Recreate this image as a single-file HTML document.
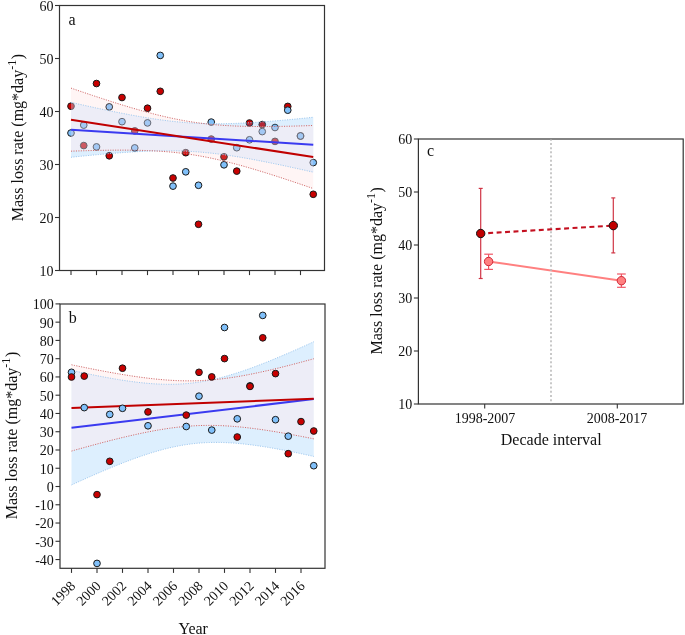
<!DOCTYPE html>
<html><head><meta charset="utf-8"><style>html,body{margin:0;padding:0;background:#fff;width:685px;height:635px;overflow:hidden}svg{display:block;will-change:transform}</style></head>
<body><svg width="685" height="635" viewBox="0 0 685 635"><rect width="685" height="635" fill="#fff"/><g stroke="#1a1a1a" stroke-width="1.0"><circle cx="71.00" cy="106.20" r="3.35" fill="#c80000"/><circle cx="71.00" cy="133.02" r="3.35" fill="#80c0fa"/><circle cx="83.75" cy="145.58" r="3.35" fill="#c80000"/><circle cx="83.75" cy="125.12" r="3.35" fill="#80c0fa"/><circle cx="96.50" cy="83.52" r="3.35" fill="#c80000"/><circle cx="96.50" cy="146.90" r="3.35" fill="#80c0fa"/><circle cx="109.25" cy="155.81" r="3.35" fill="#c80000"/><circle cx="109.25" cy="106.89" r="3.35" fill="#80c0fa"/><circle cx="122.00" cy="97.51" r="3.35" fill="#c80000"/><circle cx="122.00" cy="121.68" r="3.35" fill="#80c0fa"/><circle cx="134.75" cy="130.90" r="3.35" fill="#c80000"/><circle cx="134.75" cy="147.91" r="3.35" fill="#80c0fa"/><circle cx="147.50" cy="108.21" r="3.35" fill="#c80000"/><circle cx="147.50" cy="122.90" r="3.35" fill="#80c0fa"/><circle cx="160.25" cy="91.31" r="3.35" fill="#c80000"/><circle cx="160.25" cy="55.43" r="3.35" fill="#80c0fa"/><circle cx="173.00" cy="178.01" r="3.35" fill="#c80000"/><circle cx="173.00" cy="186.12" r="3.35" fill="#80c0fa"/><circle cx="185.75" cy="152.68" r="3.35" fill="#c80000"/><circle cx="185.75" cy="171.81" r="3.35" fill="#80c0fa"/><circle cx="198.50" cy="224.28" r="3.35" fill="#c80000"/><circle cx="198.50" cy="185.28" r="3.35" fill="#80c0fa"/><circle cx="211.25" cy="139.06" r="3.35" fill="#c80000"/><circle cx="211.25" cy="122.10" r="3.35" fill="#80c0fa"/><circle cx="224.00" cy="156.81" r="3.35" fill="#c80000"/><circle cx="224.00" cy="164.82" r="3.35" fill="#80c0fa"/><circle cx="236.75" cy="171.12" r="3.35" fill="#c80000"/><circle cx="236.75" cy="147.70" r="3.35" fill="#80c0fa"/><circle cx="249.50" cy="123.00" r="3.35" fill="#c80000"/><circle cx="249.50" cy="139.80" r="3.35" fill="#80c0fa"/><circle cx="262.25" cy="124.59" r="3.35" fill="#c80000"/><circle cx="262.25" cy="131.59" r="3.35" fill="#80c0fa"/><circle cx="275.00" cy="141.39" r="3.35" fill="#c80000"/><circle cx="275.00" cy="127.51" r="3.35" fill="#80c0fa"/><circle cx="287.75" cy="106.41" r="3.35" fill="#c80000"/><circle cx="287.75" cy="110.18" r="3.35" fill="#80c0fa"/><circle cx="300.50" cy="135.99" r="3.35" fill="#c80000"/><circle cx="300.50" cy="135.99" r="3.35" fill="#80c0fa"/><circle cx="313.25" cy="194.29" r="3.35" fill="#c80000"/><circle cx="313.25" cy="162.59" r="3.35" fill="#80c0fa"/></g><defs><clipPath id="paB"><path d="M71.00,102.39 L74.07,103.08 L77.13,103.77 L80.20,104.46 L83.27,105.14 L86.33,105.82 L89.40,106.50 L92.47,107.16 L95.53,107.83 L98.60,108.49 L101.66,109.14 L104.73,109.78 L107.80,110.42 L110.86,111.06 L113.93,111.68 L117.00,112.30 L120.06,112.91 L123.13,113.51 L126.20,114.09 L129.26,114.67 L132.33,115.24 L135.40,115.80 L138.46,116.35 L141.53,116.88 L144.59,117.39 L147.66,117.90 L150.73,118.39 L153.79,118.86 L156.86,119.31 L159.93,119.75 L162.99,120.16 L166.06,120.56 L169.13,120.94 L172.19,121.29 L175.26,121.62 L178.33,121.93 L181.39,122.22 L184.46,122.48 L187.53,122.72 L190.59,122.93 L193.66,123.12 L196.72,123.29 L199.79,123.42 L202.86,123.54 L205.92,123.63 L208.99,123.70 L212.06,123.74 L215.12,123.76 L218.19,123.76 L221.26,123.74 L224.32,123.70 L227.39,123.64 L230.46,123.57 L233.52,123.47 L236.59,123.36 L239.66,123.23 L242.72,123.09 L245.79,122.94 L248.85,122.77 L251.92,122.59 L254.99,122.40 L258.05,122.20 L261.12,121.98 L264.19,121.76 L267.25,121.53 L270.32,121.29 L273.39,121.04 L276.45,120.78 L279.52,120.52 L282.59,120.25 L285.65,119.98 L288.72,119.70 L291.78,119.41 L294.85,119.12 L297.92,118.82 L300.98,118.52 L304.05,118.21 L307.12,117.90 L310.18,117.59 L313.25,117.27 L313.25,172.14 L310.18,171.45 L307.12,170.76 L304.05,170.07 L300.98,169.39 L297.92,168.71 L294.85,168.04 L291.78,167.37 L288.72,166.70 L285.65,166.05 L282.59,165.39 L279.52,164.75 L276.45,164.11 L273.39,163.48 L270.32,162.85 L267.25,162.23 L264.19,161.63 L261.12,161.03 L258.05,160.44 L254.99,159.86 L251.92,159.29 L248.85,158.73 L245.79,158.19 L242.72,157.66 L239.66,157.14 L236.59,156.63 L233.52,156.15 L230.46,155.67 L227.39,155.22 L224.32,154.78 L221.26,154.37 L218.19,153.97 L215.12,153.59 L212.06,153.24 L208.99,152.91 L205.92,152.60 L202.86,152.31 L199.79,152.05 L196.72,151.81 L193.66,151.60 L190.59,151.41 L187.53,151.25 L184.46,151.11 L181.39,150.99 L178.33,150.90 L175.26,150.84 L172.19,150.79 L169.13,150.77 L166.06,150.77 L162.99,150.79 L159.93,150.83 L156.86,150.89 L153.79,150.97 L150.73,151.06 L147.66,151.17 L144.59,151.30 L141.53,151.44 L138.46,151.59 L135.40,151.76 L132.33,151.94 L129.26,152.13 L126.20,152.34 L123.13,152.55 L120.06,152.77 L117.00,153.00 L113.93,153.24 L110.86,153.49 L107.80,153.75 L104.73,154.01 L101.66,154.28 L98.60,154.56 L95.53,154.84 L92.47,155.12 L89.40,155.42 L86.33,155.71 L83.27,156.01 L80.20,156.32 L77.13,156.63 L74.07,156.94 L71.00,157.26 Z"/></clipPath><clipPath id="paR"><path d="M71.00,88.11 L74.07,89.17 L77.13,90.22 L80.20,91.26 L83.27,92.30 L86.33,93.34 L89.40,94.37 L92.47,95.40 L95.53,96.42 L98.60,97.43 L101.66,98.43 L104.73,99.43 L107.80,100.43 L110.86,101.41 L113.93,102.38 L117.00,103.35 L120.06,104.30 L123.13,105.25 L126.20,106.18 L129.26,107.11 L132.33,108.02 L135.40,108.91 L138.46,109.80 L141.53,110.67 L144.59,111.52 L147.66,112.35 L150.73,113.17 L153.79,113.97 L156.86,114.75 L159.93,115.50 L162.99,116.24 L166.06,116.95 L169.13,117.64 L172.19,118.31 L175.26,118.94 L178.33,119.56 L181.39,120.14 L184.46,120.70 L187.53,121.23 L190.59,121.73 L193.66,122.20 L196.72,122.65 L199.79,123.07 L202.86,123.45 L205.92,123.81 L208.99,124.15 L212.06,124.46 L215.12,124.74 L218.19,124.99 L221.26,125.23 L224.32,125.44 L227.39,125.63 L230.46,125.79 L233.52,125.94 L236.59,126.07 L239.66,126.18 L242.72,126.28 L245.79,126.35 L248.85,126.42 L251.92,126.47 L254.99,126.50 L258.05,126.53 L261.12,126.54 L264.19,126.54 L267.25,126.53 L270.32,126.51 L273.39,126.48 L276.45,126.44 L279.52,126.40 L282.59,126.35 L285.65,126.29 L288.72,126.22 L291.78,126.15 L294.85,126.07 L297.92,125.98 L300.98,125.89 L304.05,125.80 L307.12,125.70 L310.18,125.59 L313.25,125.49 L313.25,188.56 L310.18,187.50 L307.12,186.45 L304.05,185.40 L300.98,184.36 L297.92,183.33 L294.85,182.30 L291.78,181.27 L288.72,180.25 L285.65,179.24 L282.59,178.23 L279.52,177.23 L276.45,176.24 L273.39,175.26 L270.32,174.28 L267.25,173.32 L264.19,172.36 L261.12,171.42 L258.05,170.48 L254.99,169.56 L251.92,168.65 L248.85,167.75 L245.79,166.87 L242.72,166.00 L239.66,165.15 L236.59,164.32 L233.52,163.50 L230.46,162.70 L227.39,161.92 L224.32,161.16 L221.26,160.43 L218.19,159.72 L215.12,159.03 L212.06,158.36 L208.99,157.72 L205.92,157.11 L202.86,156.53 L199.79,155.97 L196.72,155.44 L193.66,154.94 L190.59,154.46 L187.53,154.02 L184.46,153.60 L181.39,153.21 L178.33,152.85 L175.26,152.52 L172.19,152.21 L169.13,151.93 L166.06,151.67 L162.99,151.44 L159.93,151.23 L156.86,151.04 L153.79,150.87 L150.73,150.73 L147.66,150.60 L144.59,150.49 L141.53,150.39 L138.46,150.31 L135.40,150.25 L132.33,150.20 L129.26,150.16 L126.20,150.14 L123.13,150.13 L120.06,150.13 L117.00,150.14 L113.93,150.16 L110.86,150.19 L107.80,150.22 L104.73,150.27 L101.66,150.32 L98.60,150.38 L95.53,150.45 L92.47,150.52 L89.40,150.60 L86.33,150.69 L83.27,150.78 L80.20,150.87 L77.13,150.97 L74.07,151.07 L71.00,151.18 Z"/></clipPath><mask id="panB"><rect width="685" height="635" fill="#fff"/><path d="M71.00,102.39 L74.07,103.08 L77.13,103.77 L80.20,104.46 L83.27,105.14 L86.33,105.82 L89.40,106.50 L92.47,107.16 L95.53,107.83 L98.60,108.49 L101.66,109.14 L104.73,109.78 L107.80,110.42 L110.86,111.06 L113.93,111.68 L117.00,112.30 L120.06,112.91 L123.13,113.51 L126.20,114.09 L129.26,114.67 L132.33,115.24 L135.40,115.80 L138.46,116.35 L141.53,116.88 L144.59,117.39 L147.66,117.90 L150.73,118.39 L153.79,118.86 L156.86,119.31 L159.93,119.75 L162.99,120.16 L166.06,120.56 L169.13,120.94 L172.19,121.29 L175.26,121.62 L178.33,121.93 L181.39,122.22 L184.46,122.48 L187.53,122.72 L190.59,122.93 L193.66,123.12 L196.72,123.29 L199.79,123.42 L202.86,123.54 L205.92,123.63 L208.99,123.70 L212.06,123.74 L215.12,123.76 L218.19,123.76 L221.26,123.74 L224.32,123.70 L227.39,123.64 L230.46,123.57 L233.52,123.47 L236.59,123.36 L239.66,123.23 L242.72,123.09 L245.79,122.94 L248.85,122.77 L251.92,122.59 L254.99,122.40 L258.05,122.20 L261.12,121.98 L264.19,121.76 L267.25,121.53 L270.32,121.29 L273.39,121.04 L276.45,120.78 L279.52,120.52 L282.59,120.25 L285.65,119.98 L288.72,119.70 L291.78,119.41 L294.85,119.12 L297.92,118.82 L300.98,118.52 L304.05,118.21 L307.12,117.90 L310.18,117.59 L313.25,117.27 L313.25,172.14 L310.18,171.45 L307.12,170.76 L304.05,170.07 L300.98,169.39 L297.92,168.71 L294.85,168.04 L291.78,167.37 L288.72,166.70 L285.65,166.05 L282.59,165.39 L279.52,164.75 L276.45,164.11 L273.39,163.48 L270.32,162.85 L267.25,162.23 L264.19,161.63 L261.12,161.03 L258.05,160.44 L254.99,159.86 L251.92,159.29 L248.85,158.73 L245.79,158.19 L242.72,157.66 L239.66,157.14 L236.59,156.63 L233.52,156.15 L230.46,155.67 L227.39,155.22 L224.32,154.78 L221.26,154.37 L218.19,153.97 L215.12,153.59 L212.06,153.24 L208.99,152.91 L205.92,152.60 L202.86,152.31 L199.79,152.05 L196.72,151.81 L193.66,151.60 L190.59,151.41 L187.53,151.25 L184.46,151.11 L181.39,150.99 L178.33,150.90 L175.26,150.84 L172.19,150.79 L169.13,150.77 L166.06,150.77 L162.99,150.79 L159.93,150.83 L156.86,150.89 L153.79,150.97 L150.73,151.06 L147.66,151.17 L144.59,151.30 L141.53,151.44 L138.46,151.59 L135.40,151.76 L132.33,151.94 L129.26,152.13 L126.20,152.34 L123.13,152.55 L120.06,152.77 L117.00,153.00 L113.93,153.24 L110.86,153.49 L107.80,153.75 L104.73,154.01 L101.66,154.28 L98.60,154.56 L95.53,154.84 L92.47,155.12 L89.40,155.42 L86.33,155.71 L83.27,156.01 L80.20,156.32 L77.13,156.63 L74.07,156.94 L71.00,157.26 Z" fill="#000"/></mask><mask id="panR"><rect width="685" height="635" fill="#fff"/><path d="M71.00,88.11 L74.07,89.17 L77.13,90.22 L80.20,91.26 L83.27,92.30 L86.33,93.34 L89.40,94.37 L92.47,95.40 L95.53,96.42 L98.60,97.43 L101.66,98.43 L104.73,99.43 L107.80,100.43 L110.86,101.41 L113.93,102.38 L117.00,103.35 L120.06,104.30 L123.13,105.25 L126.20,106.18 L129.26,107.11 L132.33,108.02 L135.40,108.91 L138.46,109.80 L141.53,110.67 L144.59,111.52 L147.66,112.35 L150.73,113.17 L153.79,113.97 L156.86,114.75 L159.93,115.50 L162.99,116.24 L166.06,116.95 L169.13,117.64 L172.19,118.31 L175.26,118.94 L178.33,119.56 L181.39,120.14 L184.46,120.70 L187.53,121.23 L190.59,121.73 L193.66,122.20 L196.72,122.65 L199.79,123.07 L202.86,123.45 L205.92,123.81 L208.99,124.15 L212.06,124.46 L215.12,124.74 L218.19,124.99 L221.26,125.23 L224.32,125.44 L227.39,125.63 L230.46,125.79 L233.52,125.94 L236.59,126.07 L239.66,126.18 L242.72,126.28 L245.79,126.35 L248.85,126.42 L251.92,126.47 L254.99,126.50 L258.05,126.53 L261.12,126.54 L264.19,126.54 L267.25,126.53 L270.32,126.51 L273.39,126.48 L276.45,126.44 L279.52,126.40 L282.59,126.35 L285.65,126.29 L288.72,126.22 L291.78,126.15 L294.85,126.07 L297.92,125.98 L300.98,125.89 L304.05,125.80 L307.12,125.70 L310.18,125.59 L313.25,125.49 L313.25,188.56 L310.18,187.50 L307.12,186.45 L304.05,185.40 L300.98,184.36 L297.92,183.33 L294.85,182.30 L291.78,181.27 L288.72,180.25 L285.65,179.24 L282.59,178.23 L279.52,177.23 L276.45,176.24 L273.39,175.26 L270.32,174.28 L267.25,173.32 L264.19,172.36 L261.12,171.42 L258.05,170.48 L254.99,169.56 L251.92,168.65 L248.85,167.75 L245.79,166.87 L242.72,166.00 L239.66,165.15 L236.59,164.32 L233.52,163.50 L230.46,162.70 L227.39,161.92 L224.32,161.16 L221.26,160.43 L218.19,159.72 L215.12,159.03 L212.06,158.36 L208.99,157.72 L205.92,157.11 L202.86,156.53 L199.79,155.97 L196.72,155.44 L193.66,154.94 L190.59,154.46 L187.53,154.02 L184.46,153.60 L181.39,153.21 L178.33,152.85 L175.26,152.52 L172.19,152.21 L169.13,151.93 L166.06,151.67 L162.99,151.44 L159.93,151.23 L156.86,151.04 L153.79,150.87 L150.73,150.73 L147.66,150.60 L144.59,150.49 L141.53,150.39 L138.46,150.31 L135.40,150.25 L132.33,150.20 L129.26,150.16 L126.20,150.14 L123.13,150.13 L120.06,150.13 L117.00,150.14 L113.93,150.16 L110.86,150.19 L107.80,150.22 L104.73,150.27 L101.66,150.32 L98.60,150.38 L95.53,150.45 L92.47,150.52 L89.40,150.60 L86.33,150.69 L83.27,150.78 L80.20,150.87 L77.13,150.97 L74.07,151.07 L71.00,151.18 Z" fill="#000"/></mask></defs><path d="M71.00,102.39 L74.07,103.08 L77.13,103.77 L80.20,104.46 L83.27,105.14 L86.33,105.82 L89.40,106.50 L92.47,107.16 L95.53,107.83 L98.60,108.49 L101.66,109.14 L104.73,109.78 L107.80,110.42 L110.86,111.06 L113.93,111.68 L117.00,112.30 L120.06,112.91 L123.13,113.51 L126.20,114.09 L129.26,114.67 L132.33,115.24 L135.40,115.80 L138.46,116.35 L141.53,116.88 L144.59,117.39 L147.66,117.90 L150.73,118.39 L153.79,118.86 L156.86,119.31 L159.93,119.75 L162.99,120.16 L166.06,120.56 L169.13,120.94 L172.19,121.29 L175.26,121.62 L178.33,121.93 L181.39,122.22 L184.46,122.48 L187.53,122.72 L190.59,122.93 L193.66,123.12 L196.72,123.29 L199.79,123.42 L202.86,123.54 L205.92,123.63 L208.99,123.70 L212.06,123.74 L215.12,123.76 L218.19,123.76 L221.26,123.74 L224.32,123.70 L227.39,123.64 L230.46,123.57 L233.52,123.47 L236.59,123.36 L239.66,123.23 L242.72,123.09 L245.79,122.94 L248.85,122.77 L251.92,122.59 L254.99,122.40 L258.05,122.20 L261.12,121.98 L264.19,121.76 L267.25,121.53 L270.32,121.29 L273.39,121.04 L276.45,120.78 L279.52,120.52 L282.59,120.25 L285.65,119.98 L288.72,119.70 L291.78,119.41 L294.85,119.12 L297.92,118.82 L300.98,118.52 L304.05,118.21 L307.12,117.90 L310.18,117.59 L313.25,117.27 L313.25,172.14 L310.18,171.45 L307.12,170.76 L304.05,170.07 L300.98,169.39 L297.92,168.71 L294.85,168.04 L291.78,167.37 L288.72,166.70 L285.65,166.05 L282.59,165.39 L279.52,164.75 L276.45,164.11 L273.39,163.48 L270.32,162.85 L267.25,162.23 L264.19,161.63 L261.12,161.03 L258.05,160.44 L254.99,159.86 L251.92,159.29 L248.85,158.73 L245.79,158.19 L242.72,157.66 L239.66,157.14 L236.59,156.63 L233.52,156.15 L230.46,155.67 L227.39,155.22 L224.32,154.78 L221.26,154.37 L218.19,153.97 L215.12,153.59 L212.06,153.24 L208.99,152.91 L205.92,152.60 L202.86,152.31 L199.79,152.05 L196.72,151.81 L193.66,151.60 L190.59,151.41 L187.53,151.25 L184.46,151.11 L181.39,150.99 L178.33,150.90 L175.26,150.84 L172.19,150.79 L169.13,150.77 L166.06,150.77 L162.99,150.79 L159.93,150.83 L156.86,150.89 L153.79,150.97 L150.73,151.06 L147.66,151.17 L144.59,151.30 L141.53,151.44 L138.46,151.59 L135.40,151.76 L132.33,151.94 L129.26,152.13 L126.20,152.34 L123.13,152.55 L120.06,152.77 L117.00,153.00 L113.93,153.24 L110.86,153.49 L107.80,153.75 L104.73,154.01 L101.66,154.28 L98.60,154.56 L95.53,154.84 L92.47,155.12 L89.40,155.42 L86.33,155.71 L83.27,156.01 L80.20,156.32 L77.13,156.63 L74.07,156.94 L71.00,157.26 Z" fill="rgba(100,180,250,0.22)" mask="url(#panR)"/><path d="M71.00,88.11 L74.07,89.17 L77.13,90.22 L80.20,91.26 L83.27,92.30 L86.33,93.34 L89.40,94.37 L92.47,95.40 L95.53,96.42 L98.60,97.43 L101.66,98.43 L104.73,99.43 L107.80,100.43 L110.86,101.41 L113.93,102.38 L117.00,103.35 L120.06,104.30 L123.13,105.25 L126.20,106.18 L129.26,107.11 L132.33,108.02 L135.40,108.91 L138.46,109.80 L141.53,110.67 L144.59,111.52 L147.66,112.35 L150.73,113.17 L153.79,113.97 L156.86,114.75 L159.93,115.50 L162.99,116.24 L166.06,116.95 L169.13,117.64 L172.19,118.31 L175.26,118.94 L178.33,119.56 L181.39,120.14 L184.46,120.70 L187.53,121.23 L190.59,121.73 L193.66,122.20 L196.72,122.65 L199.79,123.07 L202.86,123.45 L205.92,123.81 L208.99,124.15 L212.06,124.46 L215.12,124.74 L218.19,124.99 L221.26,125.23 L224.32,125.44 L227.39,125.63 L230.46,125.79 L233.52,125.94 L236.59,126.07 L239.66,126.18 L242.72,126.28 L245.79,126.35 L248.85,126.42 L251.92,126.47 L254.99,126.50 L258.05,126.53 L261.12,126.54 L264.19,126.54 L267.25,126.53 L270.32,126.51 L273.39,126.48 L276.45,126.44 L279.52,126.40 L282.59,126.35 L285.65,126.29 L288.72,126.22 L291.78,126.15 L294.85,126.07 L297.92,125.98 L300.98,125.89 L304.05,125.80 L307.12,125.70 L310.18,125.59 L313.25,125.49 L313.25,188.56 L310.18,187.50 L307.12,186.45 L304.05,185.40 L300.98,184.36 L297.92,183.33 L294.85,182.30 L291.78,181.27 L288.72,180.25 L285.65,179.24 L282.59,178.23 L279.52,177.23 L276.45,176.24 L273.39,175.26 L270.32,174.28 L267.25,173.32 L264.19,172.36 L261.12,171.42 L258.05,170.48 L254.99,169.56 L251.92,168.65 L248.85,167.75 L245.79,166.87 L242.72,166.00 L239.66,165.15 L236.59,164.32 L233.52,163.50 L230.46,162.70 L227.39,161.92 L224.32,161.16 L221.26,160.43 L218.19,159.72 L215.12,159.03 L212.06,158.36 L208.99,157.72 L205.92,157.11 L202.86,156.53 L199.79,155.97 L196.72,155.44 L193.66,154.94 L190.59,154.46 L187.53,154.02 L184.46,153.60 L181.39,153.21 L178.33,152.85 L175.26,152.52 L172.19,152.21 L169.13,151.93 L166.06,151.67 L162.99,151.44 L159.93,151.23 L156.86,151.04 L153.79,150.87 L150.73,150.73 L147.66,150.60 L144.59,150.49 L141.53,150.39 L138.46,150.31 L135.40,150.25 L132.33,150.20 L129.26,150.16 L126.20,150.14 L123.13,150.13 L120.06,150.13 L117.00,150.14 L113.93,150.16 L110.86,150.19 L107.80,150.22 L104.73,150.27 L101.66,150.32 L98.60,150.38 L95.53,150.45 L92.47,150.52 L89.40,150.60 L86.33,150.69 L83.27,150.78 L80.20,150.87 L77.13,150.97 L74.07,151.07 L71.00,151.18 Z" fill="rgba(255,200,200,0.18)" mask="url(#panB)"/><path d="M71.00,88.11 L74.07,89.17 L77.13,90.22 L80.20,91.26 L83.27,92.30 L86.33,93.34 L89.40,94.37 L92.47,95.40 L95.53,96.42 L98.60,97.43 L101.66,98.43 L104.73,99.43 L107.80,100.43 L110.86,101.41 L113.93,102.38 L117.00,103.35 L120.06,104.30 L123.13,105.25 L126.20,106.18 L129.26,107.11 L132.33,108.02 L135.40,108.91 L138.46,109.80 L141.53,110.67 L144.59,111.52 L147.66,112.35 L150.73,113.17 L153.79,113.97 L156.86,114.75 L159.93,115.50 L162.99,116.24 L166.06,116.95 L169.13,117.64 L172.19,118.31 L175.26,118.94 L178.33,119.56 L181.39,120.14 L184.46,120.70 L187.53,121.23 L190.59,121.73 L193.66,122.20 L196.72,122.65 L199.79,123.07 L202.86,123.45 L205.92,123.81 L208.99,124.15 L212.06,124.46 L215.12,124.74 L218.19,124.99 L221.26,125.23 L224.32,125.44 L227.39,125.63 L230.46,125.79 L233.52,125.94 L236.59,126.07 L239.66,126.18 L242.72,126.28 L245.79,126.35 L248.85,126.42 L251.92,126.47 L254.99,126.50 L258.05,126.53 L261.12,126.54 L264.19,126.54 L267.25,126.53 L270.32,126.51 L273.39,126.48 L276.45,126.44 L279.52,126.40 L282.59,126.35 L285.65,126.29 L288.72,126.22 L291.78,126.15 L294.85,126.07 L297.92,125.98 L300.98,125.89 L304.05,125.80 L307.12,125.70 L310.18,125.59 L313.25,125.49 L313.25,188.56 L310.18,187.50 L307.12,186.45 L304.05,185.40 L300.98,184.36 L297.92,183.33 L294.85,182.30 L291.78,181.27 L288.72,180.25 L285.65,179.24 L282.59,178.23 L279.52,177.23 L276.45,176.24 L273.39,175.26 L270.32,174.28 L267.25,173.32 L264.19,172.36 L261.12,171.42 L258.05,170.48 L254.99,169.56 L251.92,168.65 L248.85,167.75 L245.79,166.87 L242.72,166.00 L239.66,165.15 L236.59,164.32 L233.52,163.50 L230.46,162.70 L227.39,161.92 L224.32,161.16 L221.26,160.43 L218.19,159.72 L215.12,159.03 L212.06,158.36 L208.99,157.72 L205.92,157.11 L202.86,156.53 L199.79,155.97 L196.72,155.44 L193.66,154.94 L190.59,154.46 L187.53,154.02 L184.46,153.60 L181.39,153.21 L178.33,152.85 L175.26,152.52 L172.19,152.21 L169.13,151.93 L166.06,151.67 L162.99,151.44 L159.93,151.23 L156.86,151.04 L153.79,150.87 L150.73,150.73 L147.66,150.60 L144.59,150.49 L141.53,150.39 L138.46,150.31 L135.40,150.25 L132.33,150.20 L129.26,150.16 L126.20,150.14 L123.13,150.13 L120.06,150.13 L117.00,150.14 L113.93,150.16 L110.86,150.19 L107.80,150.22 L104.73,150.27 L101.66,150.32 L98.60,150.38 L95.53,150.45 L92.47,150.52 L89.40,150.60 L86.33,150.69 L83.27,150.78 L80.20,150.87 L77.13,150.97 L74.07,151.07 L71.00,151.18 Z" fill="rgba(212,212,236,0.42)" clip-path="url(#paB)"/><g fill="none" stroke-width="1.0" stroke-dasharray="1.1 1.35"><path d="M71.00,102.39 L74.07,103.08 L77.13,103.77 L80.20,104.46 L83.27,105.14 L86.33,105.82 L89.40,106.50 L92.47,107.16 L95.53,107.83 L98.60,108.49 L101.66,109.14 L104.73,109.78 L107.80,110.42 L110.86,111.06 L113.93,111.68 L117.00,112.30 L120.06,112.91 L123.13,113.51 L126.20,114.09 L129.26,114.67 L132.33,115.24 L135.40,115.80 L138.46,116.35 L141.53,116.88 L144.59,117.39 L147.66,117.90 L150.73,118.39 L153.79,118.86 L156.86,119.31 L159.93,119.75 L162.99,120.16 L166.06,120.56 L169.13,120.94 L172.19,121.29 L175.26,121.62 L178.33,121.93 L181.39,122.22 L184.46,122.48 L187.53,122.72 L190.59,122.93 L193.66,123.12 L196.72,123.29 L199.79,123.42 L202.86,123.54 L205.92,123.63 L208.99,123.70 L212.06,123.74 L215.12,123.76 L218.19,123.76 L221.26,123.74 L224.32,123.70 L227.39,123.64 L230.46,123.57 L233.52,123.47 L236.59,123.36 L239.66,123.23 L242.72,123.09 L245.79,122.94 L248.85,122.77 L251.92,122.59 L254.99,122.40 L258.05,122.20 L261.12,121.98 L264.19,121.76 L267.25,121.53 L270.32,121.29 L273.39,121.04 L276.45,120.78 L279.52,120.52 L282.59,120.25 L285.65,119.98 L288.72,119.70 L291.78,119.41 L294.85,119.12 L297.92,118.82 L300.98,118.52 L304.05,118.21 L307.12,117.90 L310.18,117.59 L313.25,117.27" stroke="#9ec8ef"/><path d="M71.00,157.26 L74.07,156.94 L77.13,156.63 L80.20,156.32 L83.27,156.01 L86.33,155.71 L89.40,155.42 L92.47,155.12 L95.53,154.84 L98.60,154.56 L101.66,154.28 L104.73,154.01 L107.80,153.75 L110.86,153.49 L113.93,153.24 L117.00,153.00 L120.06,152.77 L123.13,152.55 L126.20,152.34 L129.26,152.13 L132.33,151.94 L135.40,151.76 L138.46,151.59 L141.53,151.44 L144.59,151.30 L147.66,151.17 L150.73,151.06 L153.79,150.97 L156.86,150.89 L159.93,150.83 L162.99,150.79 L166.06,150.77 L169.13,150.77 L172.19,150.79 L175.26,150.84 L178.33,150.90 L181.39,150.99 L184.46,151.11 L187.53,151.25 L190.59,151.41 L193.66,151.60 L196.72,151.81 L199.79,152.05 L202.86,152.31 L205.92,152.60 L208.99,152.91 L212.06,153.24 L215.12,153.59 L218.19,153.97 L221.26,154.37 L224.32,154.78 L227.39,155.22 L230.46,155.67 L233.52,156.15 L236.59,156.63 L239.66,157.14 L242.72,157.66 L245.79,158.19 L248.85,158.73 L251.92,159.29 L254.99,159.86 L258.05,160.44 L261.12,161.03 L264.19,161.63 L267.25,162.23 L270.32,162.85 L273.39,163.48 L276.45,164.11 L279.52,164.75 L282.59,165.39 L285.65,166.05 L288.72,166.70 L291.78,167.37 L294.85,168.04 L297.92,168.71 L300.98,169.39 L304.05,170.07 L307.12,170.76 L310.18,171.45 L313.25,172.14" stroke="#9ec8ef"/><path d="M71.00,88.11 L74.07,89.17 L77.13,90.22 L80.20,91.26 L83.27,92.30 L86.33,93.34 L89.40,94.37 L92.47,95.40 L95.53,96.42 L98.60,97.43 L101.66,98.43 L104.73,99.43 L107.80,100.43 L110.86,101.41 L113.93,102.38 L117.00,103.35 L120.06,104.30 L123.13,105.25 L126.20,106.18 L129.26,107.11 L132.33,108.02 L135.40,108.91 L138.46,109.80 L141.53,110.67 L144.59,111.52 L147.66,112.35 L150.73,113.17 L153.79,113.97 L156.86,114.75 L159.93,115.50 L162.99,116.24 L166.06,116.95 L169.13,117.64 L172.19,118.31 L175.26,118.94 L178.33,119.56 L181.39,120.14 L184.46,120.70 L187.53,121.23 L190.59,121.73 L193.66,122.20 L196.72,122.65 L199.79,123.07 L202.86,123.45 L205.92,123.81 L208.99,124.15 L212.06,124.46 L215.12,124.74 L218.19,124.99 L221.26,125.23 L224.32,125.44 L227.39,125.63 L230.46,125.79 L233.52,125.94 L236.59,126.07 L239.66,126.18 L242.72,126.28 L245.79,126.35 L248.85,126.42 L251.92,126.47 L254.99,126.50 L258.05,126.53 L261.12,126.54 L264.19,126.54 L267.25,126.53 L270.32,126.51 L273.39,126.48 L276.45,126.44 L279.52,126.40 L282.59,126.35 L285.65,126.29 L288.72,126.22 L291.78,126.15 L294.85,126.07 L297.92,125.98 L300.98,125.89 L304.05,125.80 L307.12,125.70 L310.18,125.59 L313.25,125.49" stroke="#d06868"/><path d="M71.00,151.18 L74.07,151.07 L77.13,150.97 L80.20,150.87 L83.27,150.78 L86.33,150.69 L89.40,150.60 L92.47,150.52 L95.53,150.45 L98.60,150.38 L101.66,150.32 L104.73,150.27 L107.80,150.22 L110.86,150.19 L113.93,150.16 L117.00,150.14 L120.06,150.13 L123.13,150.13 L126.20,150.14 L129.26,150.16 L132.33,150.20 L135.40,150.25 L138.46,150.31 L141.53,150.39 L144.59,150.49 L147.66,150.60 L150.73,150.73 L153.79,150.87 L156.86,151.04 L159.93,151.23 L162.99,151.44 L166.06,151.67 L169.13,151.93 L172.19,152.21 L175.26,152.52 L178.33,152.85 L181.39,153.21 L184.46,153.60 L187.53,154.02 L190.59,154.46 L193.66,154.94 L196.72,155.44 L199.79,155.97 L202.86,156.53 L205.92,157.11 L208.99,157.72 L212.06,158.36 L215.12,159.03 L218.19,159.72 L221.26,160.43 L224.32,161.16 L227.39,161.92 L230.46,162.70 L233.52,163.50 L236.59,164.32 L239.66,165.15 L242.72,166.00 L245.79,166.87 L248.85,167.75 L251.92,168.65 L254.99,169.56 L258.05,170.48 L261.12,171.42 L264.19,172.36 L267.25,173.32 L270.32,174.28 L273.39,175.26 L276.45,176.24 L279.52,177.23 L282.59,178.23 L285.65,179.24 L288.72,180.25 L291.78,181.27 L294.85,182.30 L297.92,183.33 L300.98,184.36 L304.05,185.40 L307.12,186.45 L310.18,187.50 L313.25,188.56" stroke="#d06868"/></g><line x1="71.00" y1="129.83" x2="313.25" y2="144.71" stroke="#3a3af0" stroke-width="2"/><line x1="71.00" y1="119.65" x2="313.25" y2="157.02" stroke="#c00000" stroke-width="2"/><defs><clipPath id="pbB"><path d="M71.50,370.31 L74.57,370.99 L77.63,371.66 L80.70,372.33 L83.77,372.98 L86.83,373.62 L89.90,374.26 L92.97,374.88 L96.03,375.49 L99.10,376.10 L102.16,376.68 L105.23,377.26 L108.30,377.82 L111.36,378.37 L114.43,378.90 L117.50,379.41 L120.56,379.91 L123.63,380.39 L126.70,380.85 L129.76,381.28 L132.83,381.69 L135.90,382.08 L138.96,382.45 L142.03,382.78 L145.09,383.09 L148.16,383.37 L151.23,383.61 L154.29,383.83 L157.36,384.00 L160.43,384.14 L163.49,384.24 L166.56,384.30 L169.63,384.32 L172.69,384.30 L175.76,384.22 L178.83,384.11 L181.89,383.94 L184.96,383.73 L188.03,383.47 L191.09,383.16 L194.16,382.80 L197.22,382.38 L200.29,381.92 L203.36,381.41 L206.42,380.86 L209.49,380.25 L212.56,379.60 L215.62,378.90 L218.69,378.16 L221.76,377.38 L224.82,376.55 L227.89,375.69 L230.96,374.79 L234.02,373.86 L237.09,372.89 L240.16,371.89 L243.22,370.86 L246.29,369.80 L249.35,368.71 L252.42,367.60 L255.49,366.46 L258.55,365.31 L261.62,364.12 L264.69,362.92 L267.75,361.71 L270.82,360.47 L273.89,359.21 L276.95,357.95 L280.02,356.66 L283.09,355.36 L286.15,354.05 L289.22,352.73 L292.28,351.39 L295.35,350.04 L298.42,348.69 L301.48,347.32 L304.55,345.94 L307.62,344.56 L310.68,343.16 L313.75,341.76 L313.75,456.41 L310.68,455.73 L307.62,455.06 L304.55,454.40 L301.48,453.75 L298.42,453.10 L295.35,452.47 L292.28,451.84 L289.22,451.23 L286.15,450.63 L283.09,450.04 L280.02,449.46 L276.95,448.90 L273.89,448.36 L270.82,447.82 L267.75,447.31 L264.69,446.81 L261.62,446.34 L258.55,445.88 L255.49,445.44 L252.42,445.03 L249.35,444.64 L246.29,444.28 L243.22,443.94 L240.16,443.63 L237.09,443.36 L234.02,443.11 L230.96,442.90 L227.89,442.72 L224.82,442.58 L221.76,442.48 L218.69,442.42 L215.62,442.40 L212.56,442.43 L209.49,442.50 L206.42,442.62 L203.36,442.78 L200.29,442.99 L197.22,443.26 L194.16,443.57 L191.09,443.93 L188.03,444.34 L184.96,444.80 L181.89,445.31 L178.83,445.87 L175.76,446.48 L172.69,447.13 L169.63,447.82 L166.56,448.56 L163.49,449.35 L160.43,450.17 L157.36,451.03 L154.29,451.93 L151.23,452.87 L148.16,453.84 L145.09,454.84 L142.03,455.87 L138.96,456.93 L135.90,458.01 L132.83,459.12 L129.76,460.26 L126.70,461.42 L123.63,462.60 L120.56,463.80 L117.50,465.02 L114.43,466.26 L111.36,467.51 L108.30,468.78 L105.23,470.06 L102.16,471.36 L99.10,472.67 L96.03,474.00 L92.97,475.33 L89.90,476.68 L86.83,478.04 L83.77,479.41 L80.70,480.78 L77.63,482.17 L74.57,483.56 L71.50,484.96 Z"/></clipPath><clipPath id="pbR"><path d="M71.50,364.78 L74.57,365.42 L77.63,366.05 L80.70,366.68 L83.77,367.30 L86.83,367.92 L89.90,368.53 L92.97,369.13 L96.03,369.73 L99.10,370.31 L102.16,370.89 L105.23,371.46 L108.30,372.03 L111.36,372.58 L114.43,373.12 L117.50,373.65 L120.56,374.17 L123.63,374.68 L126.70,375.17 L129.76,375.65 L132.83,376.12 L135.90,376.57 L138.96,377.01 L142.03,377.42 L145.09,377.82 L148.16,378.20 L151.23,378.56 L154.29,378.90 L157.36,379.21 L160.43,379.50 L163.49,379.77 L166.56,380.01 L169.63,380.22 L172.69,380.40 L175.76,380.56 L178.83,380.68 L181.89,380.77 L184.96,380.83 L188.03,380.85 L191.09,380.84 L194.16,380.80 L197.22,380.72 L200.29,380.61 L203.36,380.46 L206.42,380.28 L209.49,380.06 L212.56,379.81 L215.62,379.53 L218.69,379.21 L221.76,378.86 L224.82,378.48 L227.89,378.07 L230.96,377.63 L234.02,377.17 L237.09,376.67 L240.16,376.16 L243.22,375.61 L246.29,375.05 L249.35,374.46 L252.42,373.86 L255.49,373.23 L258.55,372.58 L261.62,371.92 L264.69,371.24 L267.75,370.55 L270.82,369.84 L273.89,369.11 L276.95,368.37 L280.02,367.63 L283.09,366.87 L286.15,366.09 L289.22,365.31 L292.28,364.52 L295.35,363.72 L298.42,362.91 L301.48,362.09 L304.55,361.27 L307.62,360.43 L310.68,359.59 L313.75,358.75 L313.75,438.85 L310.68,438.23 L307.62,437.63 L304.55,437.02 L301.48,436.43 L298.42,435.84 L295.35,435.27 L292.28,434.70 L289.22,434.14 L286.15,433.58 L283.09,433.04 L280.02,432.51 L276.95,432.00 L273.89,431.49 L270.82,431.00 L267.75,430.52 L264.69,430.06 L261.62,429.61 L258.55,429.18 L255.49,428.76 L252.42,428.37 L249.35,427.99 L246.29,427.63 L243.22,427.30 L240.16,426.99 L237.09,426.70 L234.02,426.44 L230.96,426.21 L227.89,426.00 L224.82,425.82 L221.76,425.67 L218.69,425.55 L215.62,425.47 L212.56,425.42 L209.49,425.40 L206.42,425.41 L203.36,425.46 L200.29,425.54 L197.22,425.66 L194.16,425.81 L191.09,426.00 L188.03,426.22 L184.96,426.48 L181.89,426.77 L178.83,427.09 L175.76,427.45 L172.69,427.83 L169.63,428.25 L166.56,428.69 L163.49,429.16 L160.43,429.66 L157.36,430.18 L154.29,430.72 L151.23,431.29 L148.16,431.88 L145.09,432.49 L142.03,433.12 L138.96,433.77 L135.90,434.44 L132.83,435.12 L129.76,435.82 L126.70,436.53 L123.63,437.25 L120.56,437.99 L117.50,438.74 L114.43,439.51 L111.36,440.28 L108.30,441.06 L105.23,441.86 L102.16,442.66 L99.10,443.47 L96.03,444.29 L92.97,445.11 L89.90,445.95 L86.83,446.79 L83.77,447.63 L80.70,448.49 L77.63,449.35 L74.57,450.21 L71.50,451.08 Z"/></clipPath><mask id="pbnB"><rect width="685" height="635" fill="#fff"/><path d="M71.50,370.31 L74.57,370.99 L77.63,371.66 L80.70,372.33 L83.77,372.98 L86.83,373.62 L89.90,374.26 L92.97,374.88 L96.03,375.49 L99.10,376.10 L102.16,376.68 L105.23,377.26 L108.30,377.82 L111.36,378.37 L114.43,378.90 L117.50,379.41 L120.56,379.91 L123.63,380.39 L126.70,380.85 L129.76,381.28 L132.83,381.69 L135.90,382.08 L138.96,382.45 L142.03,382.78 L145.09,383.09 L148.16,383.37 L151.23,383.61 L154.29,383.83 L157.36,384.00 L160.43,384.14 L163.49,384.24 L166.56,384.30 L169.63,384.32 L172.69,384.30 L175.76,384.22 L178.83,384.11 L181.89,383.94 L184.96,383.73 L188.03,383.47 L191.09,383.16 L194.16,382.80 L197.22,382.38 L200.29,381.92 L203.36,381.41 L206.42,380.86 L209.49,380.25 L212.56,379.60 L215.62,378.90 L218.69,378.16 L221.76,377.38 L224.82,376.55 L227.89,375.69 L230.96,374.79 L234.02,373.86 L237.09,372.89 L240.16,371.89 L243.22,370.86 L246.29,369.80 L249.35,368.71 L252.42,367.60 L255.49,366.46 L258.55,365.31 L261.62,364.12 L264.69,362.92 L267.75,361.71 L270.82,360.47 L273.89,359.21 L276.95,357.95 L280.02,356.66 L283.09,355.36 L286.15,354.05 L289.22,352.73 L292.28,351.39 L295.35,350.04 L298.42,348.69 L301.48,347.32 L304.55,345.94 L307.62,344.56 L310.68,343.16 L313.75,341.76 L313.75,456.41 L310.68,455.73 L307.62,455.06 L304.55,454.40 L301.48,453.75 L298.42,453.10 L295.35,452.47 L292.28,451.84 L289.22,451.23 L286.15,450.63 L283.09,450.04 L280.02,449.46 L276.95,448.90 L273.89,448.36 L270.82,447.82 L267.75,447.31 L264.69,446.81 L261.62,446.34 L258.55,445.88 L255.49,445.44 L252.42,445.03 L249.35,444.64 L246.29,444.28 L243.22,443.94 L240.16,443.63 L237.09,443.36 L234.02,443.11 L230.96,442.90 L227.89,442.72 L224.82,442.58 L221.76,442.48 L218.69,442.42 L215.62,442.40 L212.56,442.43 L209.49,442.50 L206.42,442.62 L203.36,442.78 L200.29,442.99 L197.22,443.26 L194.16,443.57 L191.09,443.93 L188.03,444.34 L184.96,444.80 L181.89,445.31 L178.83,445.87 L175.76,446.48 L172.69,447.13 L169.63,447.82 L166.56,448.56 L163.49,449.35 L160.43,450.17 L157.36,451.03 L154.29,451.93 L151.23,452.87 L148.16,453.84 L145.09,454.84 L142.03,455.87 L138.96,456.93 L135.90,458.01 L132.83,459.12 L129.76,460.26 L126.70,461.42 L123.63,462.60 L120.56,463.80 L117.50,465.02 L114.43,466.26 L111.36,467.51 L108.30,468.78 L105.23,470.06 L102.16,471.36 L99.10,472.67 L96.03,474.00 L92.97,475.33 L89.90,476.68 L86.83,478.04 L83.77,479.41 L80.70,480.78 L77.63,482.17 L74.57,483.56 L71.50,484.96 Z" fill="#000"/></mask><mask id="pbnR"><rect width="685" height="635" fill="#fff"/><path d="M71.50,364.78 L74.57,365.42 L77.63,366.05 L80.70,366.68 L83.77,367.30 L86.83,367.92 L89.90,368.53 L92.97,369.13 L96.03,369.73 L99.10,370.31 L102.16,370.89 L105.23,371.46 L108.30,372.03 L111.36,372.58 L114.43,373.12 L117.50,373.65 L120.56,374.17 L123.63,374.68 L126.70,375.17 L129.76,375.65 L132.83,376.12 L135.90,376.57 L138.96,377.01 L142.03,377.42 L145.09,377.82 L148.16,378.20 L151.23,378.56 L154.29,378.90 L157.36,379.21 L160.43,379.50 L163.49,379.77 L166.56,380.01 L169.63,380.22 L172.69,380.40 L175.76,380.56 L178.83,380.68 L181.89,380.77 L184.96,380.83 L188.03,380.85 L191.09,380.84 L194.16,380.80 L197.22,380.72 L200.29,380.61 L203.36,380.46 L206.42,380.28 L209.49,380.06 L212.56,379.81 L215.62,379.53 L218.69,379.21 L221.76,378.86 L224.82,378.48 L227.89,378.07 L230.96,377.63 L234.02,377.17 L237.09,376.67 L240.16,376.16 L243.22,375.61 L246.29,375.05 L249.35,374.46 L252.42,373.86 L255.49,373.23 L258.55,372.58 L261.62,371.92 L264.69,371.24 L267.75,370.55 L270.82,369.84 L273.89,369.11 L276.95,368.37 L280.02,367.63 L283.09,366.87 L286.15,366.09 L289.22,365.31 L292.28,364.52 L295.35,363.72 L298.42,362.91 L301.48,362.09 L304.55,361.27 L307.62,360.43 L310.68,359.59 L313.75,358.75 L313.75,438.85 L310.68,438.23 L307.62,437.63 L304.55,437.02 L301.48,436.43 L298.42,435.84 L295.35,435.27 L292.28,434.70 L289.22,434.14 L286.15,433.58 L283.09,433.04 L280.02,432.51 L276.95,432.00 L273.89,431.49 L270.82,431.00 L267.75,430.52 L264.69,430.06 L261.62,429.61 L258.55,429.18 L255.49,428.76 L252.42,428.37 L249.35,427.99 L246.29,427.63 L243.22,427.30 L240.16,426.99 L237.09,426.70 L234.02,426.44 L230.96,426.21 L227.89,426.00 L224.82,425.82 L221.76,425.67 L218.69,425.55 L215.62,425.47 L212.56,425.42 L209.49,425.40 L206.42,425.41 L203.36,425.46 L200.29,425.54 L197.22,425.66 L194.16,425.81 L191.09,426.00 L188.03,426.22 L184.96,426.48 L181.89,426.77 L178.83,427.09 L175.76,427.45 L172.69,427.83 L169.63,428.25 L166.56,428.69 L163.49,429.16 L160.43,429.66 L157.36,430.18 L154.29,430.72 L151.23,431.29 L148.16,431.88 L145.09,432.49 L142.03,433.12 L138.96,433.77 L135.90,434.44 L132.83,435.12 L129.76,435.82 L126.70,436.53 L123.63,437.25 L120.56,437.99 L117.50,438.74 L114.43,439.51 L111.36,440.28 L108.30,441.06 L105.23,441.86 L102.16,442.66 L99.10,443.47 L96.03,444.29 L92.97,445.11 L89.90,445.95 L86.83,446.79 L83.77,447.63 L80.70,448.49 L77.63,449.35 L74.57,450.21 L71.50,451.08 Z" fill="#000"/></mask></defs><path d="M71.50,370.31 L74.57,370.99 L77.63,371.66 L80.70,372.33 L83.77,372.98 L86.83,373.62 L89.90,374.26 L92.97,374.88 L96.03,375.49 L99.10,376.10 L102.16,376.68 L105.23,377.26 L108.30,377.82 L111.36,378.37 L114.43,378.90 L117.50,379.41 L120.56,379.91 L123.63,380.39 L126.70,380.85 L129.76,381.28 L132.83,381.69 L135.90,382.08 L138.96,382.45 L142.03,382.78 L145.09,383.09 L148.16,383.37 L151.23,383.61 L154.29,383.83 L157.36,384.00 L160.43,384.14 L163.49,384.24 L166.56,384.30 L169.63,384.32 L172.69,384.30 L175.76,384.22 L178.83,384.11 L181.89,383.94 L184.96,383.73 L188.03,383.47 L191.09,383.16 L194.16,382.80 L197.22,382.38 L200.29,381.92 L203.36,381.41 L206.42,380.86 L209.49,380.25 L212.56,379.60 L215.62,378.90 L218.69,378.16 L221.76,377.38 L224.82,376.55 L227.89,375.69 L230.96,374.79 L234.02,373.86 L237.09,372.89 L240.16,371.89 L243.22,370.86 L246.29,369.80 L249.35,368.71 L252.42,367.60 L255.49,366.46 L258.55,365.31 L261.62,364.12 L264.69,362.92 L267.75,361.71 L270.82,360.47 L273.89,359.21 L276.95,357.95 L280.02,356.66 L283.09,355.36 L286.15,354.05 L289.22,352.73 L292.28,351.39 L295.35,350.04 L298.42,348.69 L301.48,347.32 L304.55,345.94 L307.62,344.56 L310.68,343.16 L313.75,341.76 L313.75,456.41 L310.68,455.73 L307.62,455.06 L304.55,454.40 L301.48,453.75 L298.42,453.10 L295.35,452.47 L292.28,451.84 L289.22,451.23 L286.15,450.63 L283.09,450.04 L280.02,449.46 L276.95,448.90 L273.89,448.36 L270.82,447.82 L267.75,447.31 L264.69,446.81 L261.62,446.34 L258.55,445.88 L255.49,445.44 L252.42,445.03 L249.35,444.64 L246.29,444.28 L243.22,443.94 L240.16,443.63 L237.09,443.36 L234.02,443.11 L230.96,442.90 L227.89,442.72 L224.82,442.58 L221.76,442.48 L218.69,442.42 L215.62,442.40 L212.56,442.43 L209.49,442.50 L206.42,442.62 L203.36,442.78 L200.29,442.99 L197.22,443.26 L194.16,443.57 L191.09,443.93 L188.03,444.34 L184.96,444.80 L181.89,445.31 L178.83,445.87 L175.76,446.48 L172.69,447.13 L169.63,447.82 L166.56,448.56 L163.49,449.35 L160.43,450.17 L157.36,451.03 L154.29,451.93 L151.23,452.87 L148.16,453.84 L145.09,454.84 L142.03,455.87 L138.96,456.93 L135.90,458.01 L132.83,459.12 L129.76,460.26 L126.70,461.42 L123.63,462.60 L120.56,463.80 L117.50,465.02 L114.43,466.26 L111.36,467.51 L108.30,468.78 L105.23,470.06 L102.16,471.36 L99.10,472.67 L96.03,474.00 L92.97,475.33 L89.90,476.68 L86.83,478.04 L83.77,479.41 L80.70,480.78 L77.63,482.17 L74.57,483.56 L71.50,484.96 Z" fill="rgba(100,180,250,0.22)" mask="url(#pbnR)"/><path d="M71.50,364.78 L74.57,365.42 L77.63,366.05 L80.70,366.68 L83.77,367.30 L86.83,367.92 L89.90,368.53 L92.97,369.13 L96.03,369.73 L99.10,370.31 L102.16,370.89 L105.23,371.46 L108.30,372.03 L111.36,372.58 L114.43,373.12 L117.50,373.65 L120.56,374.17 L123.63,374.68 L126.70,375.17 L129.76,375.65 L132.83,376.12 L135.90,376.57 L138.96,377.01 L142.03,377.42 L145.09,377.82 L148.16,378.20 L151.23,378.56 L154.29,378.90 L157.36,379.21 L160.43,379.50 L163.49,379.77 L166.56,380.01 L169.63,380.22 L172.69,380.40 L175.76,380.56 L178.83,380.68 L181.89,380.77 L184.96,380.83 L188.03,380.85 L191.09,380.84 L194.16,380.80 L197.22,380.72 L200.29,380.61 L203.36,380.46 L206.42,380.28 L209.49,380.06 L212.56,379.81 L215.62,379.53 L218.69,379.21 L221.76,378.86 L224.82,378.48 L227.89,378.07 L230.96,377.63 L234.02,377.17 L237.09,376.67 L240.16,376.16 L243.22,375.61 L246.29,375.05 L249.35,374.46 L252.42,373.86 L255.49,373.23 L258.55,372.58 L261.62,371.92 L264.69,371.24 L267.75,370.55 L270.82,369.84 L273.89,369.11 L276.95,368.37 L280.02,367.63 L283.09,366.87 L286.15,366.09 L289.22,365.31 L292.28,364.52 L295.35,363.72 L298.42,362.91 L301.48,362.09 L304.55,361.27 L307.62,360.43 L310.68,359.59 L313.75,358.75 L313.75,438.85 L310.68,438.23 L307.62,437.63 L304.55,437.02 L301.48,436.43 L298.42,435.84 L295.35,435.27 L292.28,434.70 L289.22,434.14 L286.15,433.58 L283.09,433.04 L280.02,432.51 L276.95,432.00 L273.89,431.49 L270.82,431.00 L267.75,430.52 L264.69,430.06 L261.62,429.61 L258.55,429.18 L255.49,428.76 L252.42,428.37 L249.35,427.99 L246.29,427.63 L243.22,427.30 L240.16,426.99 L237.09,426.70 L234.02,426.44 L230.96,426.21 L227.89,426.00 L224.82,425.82 L221.76,425.67 L218.69,425.55 L215.62,425.47 L212.56,425.42 L209.49,425.40 L206.42,425.41 L203.36,425.46 L200.29,425.54 L197.22,425.66 L194.16,425.81 L191.09,426.00 L188.03,426.22 L184.96,426.48 L181.89,426.77 L178.83,427.09 L175.76,427.45 L172.69,427.83 L169.63,428.25 L166.56,428.69 L163.49,429.16 L160.43,429.66 L157.36,430.18 L154.29,430.72 L151.23,431.29 L148.16,431.88 L145.09,432.49 L142.03,433.12 L138.96,433.77 L135.90,434.44 L132.83,435.12 L129.76,435.82 L126.70,436.53 L123.63,437.25 L120.56,437.99 L117.50,438.74 L114.43,439.51 L111.36,440.28 L108.30,441.06 L105.23,441.86 L102.16,442.66 L99.10,443.47 L96.03,444.29 L92.97,445.11 L89.90,445.95 L86.83,446.79 L83.77,447.63 L80.70,448.49 L77.63,449.35 L74.57,450.21 L71.50,451.08 Z" fill="rgba(255,200,200,0.18)" mask="url(#pbnB)"/><path d="M71.50,364.78 L74.57,365.42 L77.63,366.05 L80.70,366.68 L83.77,367.30 L86.83,367.92 L89.90,368.53 L92.97,369.13 L96.03,369.73 L99.10,370.31 L102.16,370.89 L105.23,371.46 L108.30,372.03 L111.36,372.58 L114.43,373.12 L117.50,373.65 L120.56,374.17 L123.63,374.68 L126.70,375.17 L129.76,375.65 L132.83,376.12 L135.90,376.57 L138.96,377.01 L142.03,377.42 L145.09,377.82 L148.16,378.20 L151.23,378.56 L154.29,378.90 L157.36,379.21 L160.43,379.50 L163.49,379.77 L166.56,380.01 L169.63,380.22 L172.69,380.40 L175.76,380.56 L178.83,380.68 L181.89,380.77 L184.96,380.83 L188.03,380.85 L191.09,380.84 L194.16,380.80 L197.22,380.72 L200.29,380.61 L203.36,380.46 L206.42,380.28 L209.49,380.06 L212.56,379.81 L215.62,379.53 L218.69,379.21 L221.76,378.86 L224.82,378.48 L227.89,378.07 L230.96,377.63 L234.02,377.17 L237.09,376.67 L240.16,376.16 L243.22,375.61 L246.29,375.05 L249.35,374.46 L252.42,373.86 L255.49,373.23 L258.55,372.58 L261.62,371.92 L264.69,371.24 L267.75,370.55 L270.82,369.84 L273.89,369.11 L276.95,368.37 L280.02,367.63 L283.09,366.87 L286.15,366.09 L289.22,365.31 L292.28,364.52 L295.35,363.72 L298.42,362.91 L301.48,362.09 L304.55,361.27 L307.62,360.43 L310.68,359.59 L313.75,358.75 L313.75,438.85 L310.68,438.23 L307.62,437.63 L304.55,437.02 L301.48,436.43 L298.42,435.84 L295.35,435.27 L292.28,434.70 L289.22,434.14 L286.15,433.58 L283.09,433.04 L280.02,432.51 L276.95,432.00 L273.89,431.49 L270.82,431.00 L267.75,430.52 L264.69,430.06 L261.62,429.61 L258.55,429.18 L255.49,428.76 L252.42,428.37 L249.35,427.99 L246.29,427.63 L243.22,427.30 L240.16,426.99 L237.09,426.70 L234.02,426.44 L230.96,426.21 L227.89,426.00 L224.82,425.82 L221.76,425.67 L218.69,425.55 L215.62,425.47 L212.56,425.42 L209.49,425.40 L206.42,425.41 L203.36,425.46 L200.29,425.54 L197.22,425.66 L194.16,425.81 L191.09,426.00 L188.03,426.22 L184.96,426.48 L181.89,426.77 L178.83,427.09 L175.76,427.45 L172.69,427.83 L169.63,428.25 L166.56,428.69 L163.49,429.16 L160.43,429.66 L157.36,430.18 L154.29,430.72 L151.23,431.29 L148.16,431.88 L145.09,432.49 L142.03,433.12 L138.96,433.77 L135.90,434.44 L132.83,435.12 L129.76,435.82 L126.70,436.53 L123.63,437.25 L120.56,437.99 L117.50,438.74 L114.43,439.51 L111.36,440.28 L108.30,441.06 L105.23,441.86 L102.16,442.66 L99.10,443.47 L96.03,444.29 L92.97,445.11 L89.90,445.95 L86.83,446.79 L83.77,447.63 L80.70,448.49 L77.63,449.35 L74.57,450.21 L71.50,451.08 Z" fill="rgba(212,212,236,0.42)" clip-path="url(#pbB)"/><g fill="none" stroke-width="1.0" stroke-dasharray="1.1 1.35"><path d="M71.50,370.31 L74.57,370.99 L77.63,371.66 L80.70,372.33 L83.77,372.98 L86.83,373.62 L89.90,374.26 L92.97,374.88 L96.03,375.49 L99.10,376.10 L102.16,376.68 L105.23,377.26 L108.30,377.82 L111.36,378.37 L114.43,378.90 L117.50,379.41 L120.56,379.91 L123.63,380.39 L126.70,380.85 L129.76,381.28 L132.83,381.69 L135.90,382.08 L138.96,382.45 L142.03,382.78 L145.09,383.09 L148.16,383.37 L151.23,383.61 L154.29,383.83 L157.36,384.00 L160.43,384.14 L163.49,384.24 L166.56,384.30 L169.63,384.32 L172.69,384.30 L175.76,384.22 L178.83,384.11 L181.89,383.94 L184.96,383.73 L188.03,383.47 L191.09,383.16 L194.16,382.80 L197.22,382.38 L200.29,381.92 L203.36,381.41 L206.42,380.86 L209.49,380.25 L212.56,379.60 L215.62,378.90 L218.69,378.16 L221.76,377.38 L224.82,376.55 L227.89,375.69 L230.96,374.79 L234.02,373.86 L237.09,372.89 L240.16,371.89 L243.22,370.86 L246.29,369.80 L249.35,368.71 L252.42,367.60 L255.49,366.46 L258.55,365.31 L261.62,364.12 L264.69,362.92 L267.75,361.71 L270.82,360.47 L273.89,359.21 L276.95,357.95 L280.02,356.66 L283.09,355.36 L286.15,354.05 L289.22,352.73 L292.28,351.39 L295.35,350.04 L298.42,348.69 L301.48,347.32 L304.55,345.94 L307.62,344.56 L310.68,343.16 L313.75,341.76" stroke="#9ec8ef"/><path d="M71.50,484.96 L74.57,483.56 L77.63,482.17 L80.70,480.78 L83.77,479.41 L86.83,478.04 L89.90,476.68 L92.97,475.33 L96.03,474.00 L99.10,472.67 L102.16,471.36 L105.23,470.06 L108.30,468.78 L111.36,467.51 L114.43,466.26 L117.50,465.02 L120.56,463.80 L123.63,462.60 L126.70,461.42 L129.76,460.26 L132.83,459.12 L135.90,458.01 L138.96,456.93 L142.03,455.87 L145.09,454.84 L148.16,453.84 L151.23,452.87 L154.29,451.93 L157.36,451.03 L160.43,450.17 L163.49,449.35 L166.56,448.56 L169.63,447.82 L172.69,447.13 L175.76,446.48 L178.83,445.87 L181.89,445.31 L184.96,444.80 L188.03,444.34 L191.09,443.93 L194.16,443.57 L197.22,443.26 L200.29,442.99 L203.36,442.78 L206.42,442.62 L209.49,442.50 L212.56,442.43 L215.62,442.40 L218.69,442.42 L221.76,442.48 L224.82,442.58 L227.89,442.72 L230.96,442.90 L234.02,443.11 L237.09,443.36 L240.16,443.63 L243.22,443.94 L246.29,444.28 L249.35,444.64 L252.42,445.03 L255.49,445.44 L258.55,445.88 L261.62,446.34 L264.69,446.81 L267.75,447.31 L270.82,447.82 L273.89,448.36 L276.95,448.90 L280.02,449.46 L283.09,450.04 L286.15,450.63 L289.22,451.23 L292.28,451.84 L295.35,452.47 L298.42,453.10 L301.48,453.75 L304.55,454.40 L307.62,455.06 L310.68,455.73 L313.75,456.41" stroke="#9ec8ef"/><path d="M71.50,364.78 L74.57,365.42 L77.63,366.05 L80.70,366.68 L83.77,367.30 L86.83,367.92 L89.90,368.53 L92.97,369.13 L96.03,369.73 L99.10,370.31 L102.16,370.89 L105.23,371.46 L108.30,372.03 L111.36,372.58 L114.43,373.12 L117.50,373.65 L120.56,374.17 L123.63,374.68 L126.70,375.17 L129.76,375.65 L132.83,376.12 L135.90,376.57 L138.96,377.01 L142.03,377.42 L145.09,377.82 L148.16,378.20 L151.23,378.56 L154.29,378.90 L157.36,379.21 L160.43,379.50 L163.49,379.77 L166.56,380.01 L169.63,380.22 L172.69,380.40 L175.76,380.56 L178.83,380.68 L181.89,380.77 L184.96,380.83 L188.03,380.85 L191.09,380.84 L194.16,380.80 L197.22,380.72 L200.29,380.61 L203.36,380.46 L206.42,380.28 L209.49,380.06 L212.56,379.81 L215.62,379.53 L218.69,379.21 L221.76,378.86 L224.82,378.48 L227.89,378.07 L230.96,377.63 L234.02,377.17 L237.09,376.67 L240.16,376.16 L243.22,375.61 L246.29,375.05 L249.35,374.46 L252.42,373.86 L255.49,373.23 L258.55,372.58 L261.62,371.92 L264.69,371.24 L267.75,370.55 L270.82,369.84 L273.89,369.11 L276.95,368.37 L280.02,367.63 L283.09,366.87 L286.15,366.09 L289.22,365.31 L292.28,364.52 L295.35,363.72 L298.42,362.91 L301.48,362.09 L304.55,361.27 L307.62,360.43 L310.68,359.59 L313.75,358.75" stroke="#d06868"/><path d="M71.50,451.08 L74.57,450.21 L77.63,449.35 L80.70,448.49 L83.77,447.63 L86.83,446.79 L89.90,445.95 L92.97,445.11 L96.03,444.29 L99.10,443.47 L102.16,442.66 L105.23,441.86 L108.30,441.06 L111.36,440.28 L114.43,439.51 L117.50,438.74 L120.56,437.99 L123.63,437.25 L126.70,436.53 L129.76,435.82 L132.83,435.12 L135.90,434.44 L138.96,433.77 L142.03,433.12 L145.09,432.49 L148.16,431.88 L151.23,431.29 L154.29,430.72 L157.36,430.18 L160.43,429.66 L163.49,429.16 L166.56,428.69 L169.63,428.25 L172.69,427.83 L175.76,427.45 L178.83,427.09 L181.89,426.77 L184.96,426.48 L188.03,426.22 L191.09,426.00 L194.16,425.81 L197.22,425.66 L200.29,425.54 L203.36,425.46 L206.42,425.41 L209.49,425.40 L212.56,425.42 L215.62,425.47 L218.69,425.55 L221.76,425.67 L224.82,425.82 L227.89,426.00 L230.96,426.21 L234.02,426.44 L237.09,426.70 L240.16,426.99 L243.22,427.30 L246.29,427.63 L249.35,427.99 L252.42,428.37 L255.49,428.76 L258.55,429.18 L261.62,429.61 L264.69,430.06 L267.75,430.52 L270.82,431.00 L273.89,431.49 L276.95,432.00 L280.02,432.51 L283.09,433.04 L286.15,433.58 L289.22,434.14 L292.28,434.70 L295.35,435.27 L298.42,435.84 L301.48,436.43 L304.55,437.02 L307.62,437.63 L310.68,438.23 L313.75,438.85" stroke="#d06868"/></g><line x1="71.50" y1="427.64" x2="313.75" y2="399.09" stroke="#3a3af0" stroke-width="2"/><line x1="71.50" y1="407.93" x2="313.75" y2="398.80" stroke="#c00000" stroke-width="2"/><g stroke="#1a1a1a" stroke-width="1.0"><circle cx="71.50" cy="372.31" r="3.35" fill="#80c0fa"/><circle cx="71.50" cy="376.99" r="3.35" fill="#c80000"/><circle cx="84.25" cy="407.61" r="3.35" fill="#80c0fa"/><circle cx="84.25" cy="376.10" r="3.35" fill="#c80000"/><circle cx="97.00" cy="563.41" r="3.35" fill="#80c0fa"/><circle cx="97.00" cy="494.61" r="3.35" fill="#c80000"/><circle cx="109.75" cy="414.41" r="3.35" fill="#80c0fa"/><circle cx="109.75" cy="461.31" r="3.35" fill="#c80000"/><circle cx="122.50" cy="408.30" r="3.35" fill="#80c0fa"/><circle cx="122.50" cy="368.20" r="3.35" fill="#c80000"/><circle cx="148.00" cy="425.79" r="3.35" fill="#80c0fa"/><circle cx="148.00" cy="411.89" r="3.35" fill="#c80000"/><circle cx="186.25" cy="426.52" r="3.35" fill="#80c0fa"/><circle cx="186.25" cy="415.10" r="3.35" fill="#c80000"/><circle cx="199.00" cy="396.19" r="3.35" fill="#80c0fa"/><circle cx="199.00" cy="372.31" r="3.35" fill="#c80000"/><circle cx="211.75" cy="430.11" r="3.35" fill="#80c0fa"/><circle cx="211.75" cy="376.90" r="3.35" fill="#c80000"/><circle cx="224.50" cy="327.50" r="3.35" fill="#80c0fa"/><circle cx="224.50" cy="358.59" r="3.35" fill="#c80000"/><circle cx="237.25" cy="418.81" r="3.35" fill="#80c0fa"/><circle cx="237.25" cy="437.00" r="3.35" fill="#c80000"/><circle cx="250.00" cy="385.86" r="3.35" fill="#80c0fa"/><circle cx="250.00" cy="386.40" r="3.35" fill="#c80000"/><circle cx="262.75" cy="315.40" r="3.35" fill="#80c0fa"/><circle cx="262.75" cy="337.81" r="3.35" fill="#c80000"/><circle cx="275.50" cy="419.70" r="3.35" fill="#80c0fa"/><circle cx="275.50" cy="373.60" r="3.35" fill="#c80000"/><circle cx="288.25" cy="436.18" r="3.35" fill="#80c0fa"/><circle cx="288.25" cy="453.69" r="3.35" fill="#c80000"/><circle cx="301.00" cy="421.60" r="3.35" fill="#c80000"/><circle cx="313.75" cy="465.70" r="3.35" fill="#80c0fa"/><circle cx="313.75" cy="431.00" r="3.35" fill="#c80000"/></g><rect x="59.5" y="5.5" width="265.0" height="265.0" fill="none" stroke="#333333" stroke-width="1.2"/><rect x="60" y="304.0" width="265" height="264.29999999999995" fill="none" stroke="#333333" stroke-width="1.2"/><rect x="418.4" y="139" width="264.80000000000007" height="265" fill="none" stroke="#333333" stroke-width="1.2"/><line x1="55.00" y1="270.50" x2="59.50" y2="270.50" stroke="#333333" stroke-width="1.1"/><text x="53.60" y="275.90" text-anchor="end" font-size="14" font-family="Liberation Serif" fill="#111">10</text><line x1="55.00" y1="217.50" x2="59.50" y2="217.50" stroke="#333333" stroke-width="1.1"/><text x="53.60" y="222.90" text-anchor="end" font-size="14" font-family="Liberation Serif" fill="#111">20</text><line x1="55.00" y1="164.50" x2="59.50" y2="164.50" stroke="#333333" stroke-width="1.1"/><text x="53.60" y="169.90" text-anchor="end" font-size="14" font-family="Liberation Serif" fill="#111">30</text><line x1="55.00" y1="111.50" x2="59.50" y2="111.50" stroke="#333333" stroke-width="1.1"/><text x="53.60" y="116.90" text-anchor="end" font-size="14" font-family="Liberation Serif" fill="#111">40</text><line x1="55.00" y1="58.50" x2="59.50" y2="58.50" stroke="#333333" stroke-width="1.1"/><text x="53.60" y="63.90" text-anchor="end" font-size="14" font-family="Liberation Serif" fill="#111">50</text><line x1="55.00" y1="5.50" x2="59.50" y2="5.50" stroke="#333333" stroke-width="1.1"/><text x="53.60" y="10.90" text-anchor="end" font-size="14" font-family="Liberation Serif" fill="#111">60</text><line x1="55.50" y1="559.55" x2="60.00" y2="559.55" stroke="#333333" stroke-width="1.1"/><text x="53.80" y="564.95" text-anchor="end" font-size="14" font-family="Liberation Serif" fill="#111">-40</text><line x1="55.50" y1="541.29" x2="60.00" y2="541.29" stroke="#333333" stroke-width="1.1"/><text x="53.80" y="546.69" text-anchor="end" font-size="14" font-family="Liberation Serif" fill="#111">-30</text><line x1="55.50" y1="523.03" x2="60.00" y2="523.03" stroke="#333333" stroke-width="1.1"/><text x="53.80" y="528.43" text-anchor="end" font-size="14" font-family="Liberation Serif" fill="#111">-20</text><line x1="55.50" y1="504.77" x2="60.00" y2="504.77" stroke="#333333" stroke-width="1.1"/><text x="53.80" y="510.17" text-anchor="end" font-size="14" font-family="Liberation Serif" fill="#111">-10</text><line x1="55.50" y1="486.51" x2="60.00" y2="486.51" stroke="#333333" stroke-width="1.1"/><text x="53.80" y="491.91" text-anchor="end" font-size="14" font-family="Liberation Serif" fill="#111">0</text><line x1="55.50" y1="468.25" x2="60.00" y2="468.25" stroke="#333333" stroke-width="1.1"/><text x="53.80" y="473.65" text-anchor="end" font-size="14" font-family="Liberation Serif" fill="#111">10</text><line x1="55.50" y1="449.99" x2="60.00" y2="449.99" stroke="#333333" stroke-width="1.1"/><text x="53.80" y="455.39" text-anchor="end" font-size="14" font-family="Liberation Serif" fill="#111">20</text><line x1="55.50" y1="431.73" x2="60.00" y2="431.73" stroke="#333333" stroke-width="1.1"/><text x="53.80" y="437.13" text-anchor="end" font-size="14" font-family="Liberation Serif" fill="#111">30</text><line x1="55.50" y1="413.47" x2="60.00" y2="413.47" stroke="#333333" stroke-width="1.1"/><text x="53.80" y="418.87" text-anchor="end" font-size="14" font-family="Liberation Serif" fill="#111">40</text><line x1="55.50" y1="395.20" x2="60.00" y2="395.20" stroke="#333333" stroke-width="1.1"/><text x="53.80" y="400.60" text-anchor="end" font-size="14" font-family="Liberation Serif" fill="#111">50</text><line x1="55.50" y1="376.94" x2="60.00" y2="376.94" stroke="#333333" stroke-width="1.1"/><text x="53.80" y="382.34" text-anchor="end" font-size="14" font-family="Liberation Serif" fill="#111">60</text><line x1="55.50" y1="358.68" x2="60.00" y2="358.68" stroke="#333333" stroke-width="1.1"/><text x="53.80" y="364.08" text-anchor="end" font-size="14" font-family="Liberation Serif" fill="#111">70</text><line x1="55.50" y1="340.42" x2="60.00" y2="340.42" stroke="#333333" stroke-width="1.1"/><text x="53.80" y="345.82" text-anchor="end" font-size="14" font-family="Liberation Serif" fill="#111">80</text><line x1="55.50" y1="322.16" x2="60.00" y2="322.16" stroke="#333333" stroke-width="1.1"/><text x="53.80" y="327.56" text-anchor="end" font-size="14" font-family="Liberation Serif" fill="#111">90</text><line x1="55.50" y1="303.90" x2="60.00" y2="303.90" stroke="#333333" stroke-width="1.1"/><text x="53.80" y="309.30" text-anchor="end" font-size="14" font-family="Liberation Serif" fill="#111">100</text><line x1="413.90" y1="404.00" x2="418.40" y2="404.00" stroke="#333333" stroke-width="1.1"/><text x="412.30" y="409.40" text-anchor="end" font-size="14" font-family="Liberation Serif" fill="#111">10</text><line x1="413.90" y1="351.00" x2="418.40" y2="351.00" stroke="#333333" stroke-width="1.1"/><text x="412.30" y="356.40" text-anchor="end" font-size="14" font-family="Liberation Serif" fill="#111">20</text><line x1="413.90" y1="298.00" x2="418.40" y2="298.00" stroke="#333333" stroke-width="1.1"/><text x="412.30" y="303.40" text-anchor="end" font-size="14" font-family="Liberation Serif" fill="#111">30</text><line x1="413.90" y1="245.00" x2="418.40" y2="245.00" stroke="#333333" stroke-width="1.1"/><text x="412.30" y="250.40" text-anchor="end" font-size="14" font-family="Liberation Serif" fill="#111">40</text><line x1="413.90" y1="192.00" x2="418.40" y2="192.00" stroke="#333333" stroke-width="1.1"/><text x="412.30" y="197.40" text-anchor="end" font-size="14" font-family="Liberation Serif" fill="#111">50</text><line x1="413.90" y1="139.00" x2="418.40" y2="139.00" stroke="#333333" stroke-width="1.1"/><text x="412.30" y="144.40" text-anchor="end" font-size="14" font-family="Liberation Serif" fill="#111">60</text><line x1="71.00" y1="270.50" x2="71.00" y2="275.10" stroke="#333333" stroke-width="1.1"/><line x1="96.50" y1="270.50" x2="96.50" y2="275.10" stroke="#333333" stroke-width="1.1"/><line x1="122.00" y1="270.50" x2="122.00" y2="275.10" stroke="#333333" stroke-width="1.1"/><line x1="147.50" y1="270.50" x2="147.50" y2="275.10" stroke="#333333" stroke-width="1.1"/><line x1="173.00" y1="270.50" x2="173.00" y2="275.10" stroke="#333333" stroke-width="1.1"/><line x1="198.50" y1="270.50" x2="198.50" y2="275.10" stroke="#333333" stroke-width="1.1"/><line x1="224.00" y1="270.50" x2="224.00" y2="275.10" stroke="#333333" stroke-width="1.1"/><line x1="249.50" y1="270.50" x2="249.50" y2="275.10" stroke="#333333" stroke-width="1.1"/><line x1="275.00" y1="270.50" x2="275.00" y2="275.10" stroke="#333333" stroke-width="1.1"/><line x1="300.50" y1="270.50" x2="300.50" y2="275.10" stroke="#333333" stroke-width="1.1"/><line x1="71.50" y1="568.30" x2="71.50" y2="572.90" stroke="#333333" stroke-width="1.1"/><line x1="97.00" y1="568.30" x2="97.00" y2="572.90" stroke="#333333" stroke-width="1.1"/><line x1="122.50" y1="568.30" x2="122.50" y2="572.90" stroke="#333333" stroke-width="1.1"/><line x1="148.00" y1="568.30" x2="148.00" y2="572.90" stroke="#333333" stroke-width="1.1"/><line x1="173.50" y1="568.30" x2="173.50" y2="572.90" stroke="#333333" stroke-width="1.1"/><line x1="199.00" y1="568.30" x2="199.00" y2="572.90" stroke="#333333" stroke-width="1.1"/><line x1="224.50" y1="568.30" x2="224.50" y2="572.90" stroke="#333333" stroke-width="1.1"/><line x1="250.00" y1="568.30" x2="250.00" y2="572.90" stroke="#333333" stroke-width="1.1"/><line x1="275.50" y1="568.30" x2="275.50" y2="572.90" stroke="#333333" stroke-width="1.1"/><line x1="301.00" y1="568.30" x2="301.00" y2="572.90" stroke="#333333" stroke-width="1.1"/><line x1="484.70" y1="404.00" x2="484.70" y2="408.60" stroke="#333333" stroke-width="1.1"/><line x1="617.30" y1="404.00" x2="617.30" y2="408.60" stroke="#333333" stroke-width="1.1"/><text transform="translate(76.20,586.70) rotate(-45)" text-anchor="end" font-size="14" font-family="Liberation Serif" fill="#111">1998</text><text transform="translate(101.70,586.70) rotate(-45)" text-anchor="end" font-size="14" font-family="Liberation Serif" fill="#111">2000</text><text transform="translate(127.20,586.70) rotate(-45)" text-anchor="end" font-size="14" font-family="Liberation Serif" fill="#111">2002</text><text transform="translate(152.70,586.70) rotate(-45)" text-anchor="end" font-size="14" font-family="Liberation Serif" fill="#111">2004</text><text transform="translate(178.20,586.70) rotate(-45)" text-anchor="end" font-size="14" font-family="Liberation Serif" fill="#111">2006</text><text transform="translate(203.70,586.70) rotate(-45)" text-anchor="end" font-size="14" font-family="Liberation Serif" fill="#111">2008</text><text transform="translate(229.20,586.70) rotate(-45)" text-anchor="end" font-size="14" font-family="Liberation Serif" fill="#111">2010</text><text transform="translate(254.70,586.70) rotate(-45)" text-anchor="end" font-size="14" font-family="Liberation Serif" fill="#111">2012</text><text transform="translate(280.20,586.70) rotate(-45)" text-anchor="end" font-size="14" font-family="Liberation Serif" fill="#111">2014</text><text transform="translate(305.70,586.70) rotate(-45)" text-anchor="end" font-size="14" font-family="Liberation Serif" fill="#111">2016</text><text x="68.6" y="24.6" font-size="16" font-family="Liberation Serif" fill="#111">a</text><text x="68.8" y="322.6" font-size="16" font-family="Liberation Serif" fill="#111">b</text><text x="427" y="156" font-size="16" font-family="Liberation Serif" fill="#111">c</text><text transform="translate(23.00,137.60) rotate(-90)" text-anchor="middle" font-size="16" font-family="Liberation Serif" fill="#111">Mass loss rate (mg*day<tspan dy="-7.2" font-size="12">-1</tspan><tspan dy="7.2" dx="0.6">)</tspan></text><text transform="translate(17.00,435.50) rotate(-90)" text-anchor="middle" font-size="16" font-family="Liberation Serif" fill="#111">Mass loss rate (mg*day<tspan dy="-7.2" font-size="12">-1</tspan><tspan dy="7.2" dx="0.6">)</tspan></text><text transform="translate(381.80,270.80) rotate(-90)" text-anchor="middle" font-size="16" font-family="Liberation Serif" fill="#111">Mass loss rate (mg*day<tspan dy="-7.2" font-size="12">-1</tspan><tspan dy="7.2" dx="0.6">)</tspan></text><text x="193.2" y="633.5" text-anchor="middle" font-size="16" font-family="Liberation Serif" fill="#111">Year</text><text x="551.2" y="444.8" text-anchor="middle" font-size="16" font-family="Liberation Serif" fill="#111">Decade interval</text><text x="485" y="423.4" text-anchor="middle" font-size="14" font-family="Liberation Serif" fill="#111">1998-2007</text><text x="617" y="423.4" text-anchor="middle" font-size="14" font-family="Liberation Serif" fill="#111">2008-2017</text><g stroke="#d03545" stroke-width="1.2"><line x1="480.70" y1="188.40" x2="480.70" y2="278.50"/><line x1="478.70" y1="188.40" x2="482.70" y2="188.40"/><line x1="478.70" y1="278.50" x2="482.70" y2="278.50"/></g><g stroke="#d03545" stroke-width="1.2"><line x1="613.30" y1="197.90" x2="613.30" y2="252.90"/><line x1="611.30" y1="197.90" x2="615.30" y2="197.90"/><line x1="611.30" y1="252.90" x2="615.30" y2="252.90"/></g><g stroke="#f05565" stroke-width="1.2"><line x1="488.60" y1="254.20" x2="488.60" y2="269.40"/><line x1="484.25" y1="254.20" x2="492.95" y2="254.20"/><line x1="484.25" y1="269.40" x2="492.95" y2="269.40"/></g><g stroke="#f05565" stroke-width="1.2"><line x1="621.40" y1="274.00" x2="621.40" y2="287.30"/><line x1="617.05" y1="274.00" x2="625.75" y2="274.00"/><line x1="617.05" y1="287.30" x2="625.75" y2="287.30"/></g><line x1="488.6" y1="261.5" x2="621.4" y2="280.7" stroke="#ff8080" stroke-width="2"/><line x1="551" y1="139.5" x2="551" y2="403.5" stroke="#bbbbbb" stroke-width="1.6" stroke-dasharray="2 2.2" stroke-dashoffset="0.75"/><line x1="488.2" y1="233.05" x2="613.3" y2="225.6" stroke="#c41020" stroke-width="2.2" stroke-dasharray="4.95 3.5"/><circle cx="480.7" cy="233.5" r="4.2" fill="#c00000" stroke="#111" stroke-width="1"/><circle cx="613.3" cy="225.6" r="4.2" fill="#c00000" stroke="#111" stroke-width="1"/><circle cx="488.6" cy="261.5" r="4.2" fill="#ff8080" stroke="#d02838" stroke-width="1"/><circle cx="621.4" cy="280.7" r="4.2" fill="#ff8080" stroke="#d02838" stroke-width="1"/></svg></body></html>
